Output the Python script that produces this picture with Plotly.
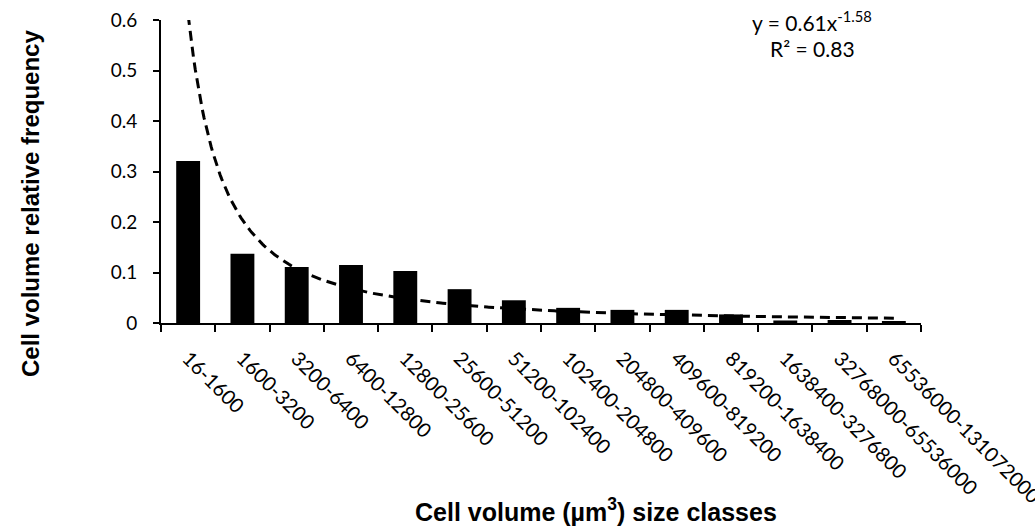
import numpy as np
import plotly.graph_objects as go

categories = ["16-1600", "1600-3200", "3200-6400", "6400-12800", "12800-25600",
              "25600-51200", "51200-102400", "102400-204800", "204800-409600",
              "409600-819200", "819200-1638400", "1638400-3276800",
              "32768000-65536000", "65536000-131072000"]
frequency = [0.321, 0.137, 0.111, 0.115, 0.103, 0.067, 0.045, 0.030, 0.026,
             0.026, 0.017, 0.005, 0.006, 0.004]
fit_a = 0.61
fit_b = -1.58
y_ticks = [0, 0.1, 0.2, 0.3, 0.4, 0.5, 0.6]

xs = np.linspace(1, len(categories), 400)
fit_y = fit_a * xs ** fit_b

W, H = 1035, 527
l, r, t, b = 161, 114, 20, 204
pw, ph = W - l - r, H - t - b


def px(x, y):
    return (x - l) / pw, (H - b - y) / ph


fig = go.Figure()
fig.add_trace(go.Bar(x=categories, y=frequency, marker=dict(color="black", line=dict(width=0)),
                     xaxis="x", yaxis="y", showlegend=False))
fig.add_trace(go.Scatter(x=xs, y=fit_y, mode="lines",
                         line=dict(color="black", width=3, dash="10px,6px"),
                         xaxis="x2", yaxis="y", showlegend=False))

tick_font = dict(family="Lato, Open Sans, sans-serif", size=19, color="black")
xtick_font = dict(family="Lato, Open Sans, sans-serif", size=20, color="black")
title_font_y = dict(family="Liberation Sans, Arial, sans-serif", size=24, color="black", weight="bold")
title_font_x = dict(family="Liberation Sans, Arial, sans-serif", size=25, color="black", weight="bold")
eq_font = dict(family="Lato, Open Sans, sans-serif", size=21, color="black")

anns = []
for text, (x, y), font, angle in [
    ("Cell volume relative frequency", (30, 204), title_font_y, -90),
    ("Cell volume (µm<sup>3</sup>) size classes", (596, 510), title_font_x, 0),
    ("y = 0.61x<sup>-1.58</sup>", (812, 21), eq_font, 0),
    ("R² = 0.83", (812, 48), eq_font, 0),
]:
    ax, ay = px(x, y)
    anns.append(dict(text=text, x=ax, y=ay, xref="paper", yref="paper", showarrow=False,
                     textangle=angle, font=font, xanchor="center", yanchor="middle"))

fig.update_layout(
    width=W, height=H,
    margin=dict(l=l, r=r, t=t, b=b, autoexpand=False),
    plot_bgcolor="white", paper_bgcolor="white",
    bargap=0.56,
    xaxis=dict(type="category", tickson="boundaries", ticks="outside", ticklen=7,
               tickwidth=2, tickcolor="black", showline=True, linecolor="black",
               linewidth=2, showgrid=False, tickangle=45, tickfont=xtick_font,
               ticklabelstandoff=14, automargin=False,
               range=[-0.5, len(categories) - 0.5]),
    xaxis2=dict(overlaying="x", range=[0.5, len(categories) + 0.5], visible=False),
    yaxis=dict(range=[0, 0.6], tickvals=y_ticks, ticks="outside", ticklen=6,
               tickwidth=2, tickcolor="black", showline=True, linecolor="black",
               linewidth=2, showgrid=False, zeroline=False, tickfont=tick_font,
               ticklabelstandoff=12, automargin=False),
    annotations=anns,
)

fig.write_html("out.html", config={"displayModeBar": False},
               post_script="document.body.style.margin='0';")
